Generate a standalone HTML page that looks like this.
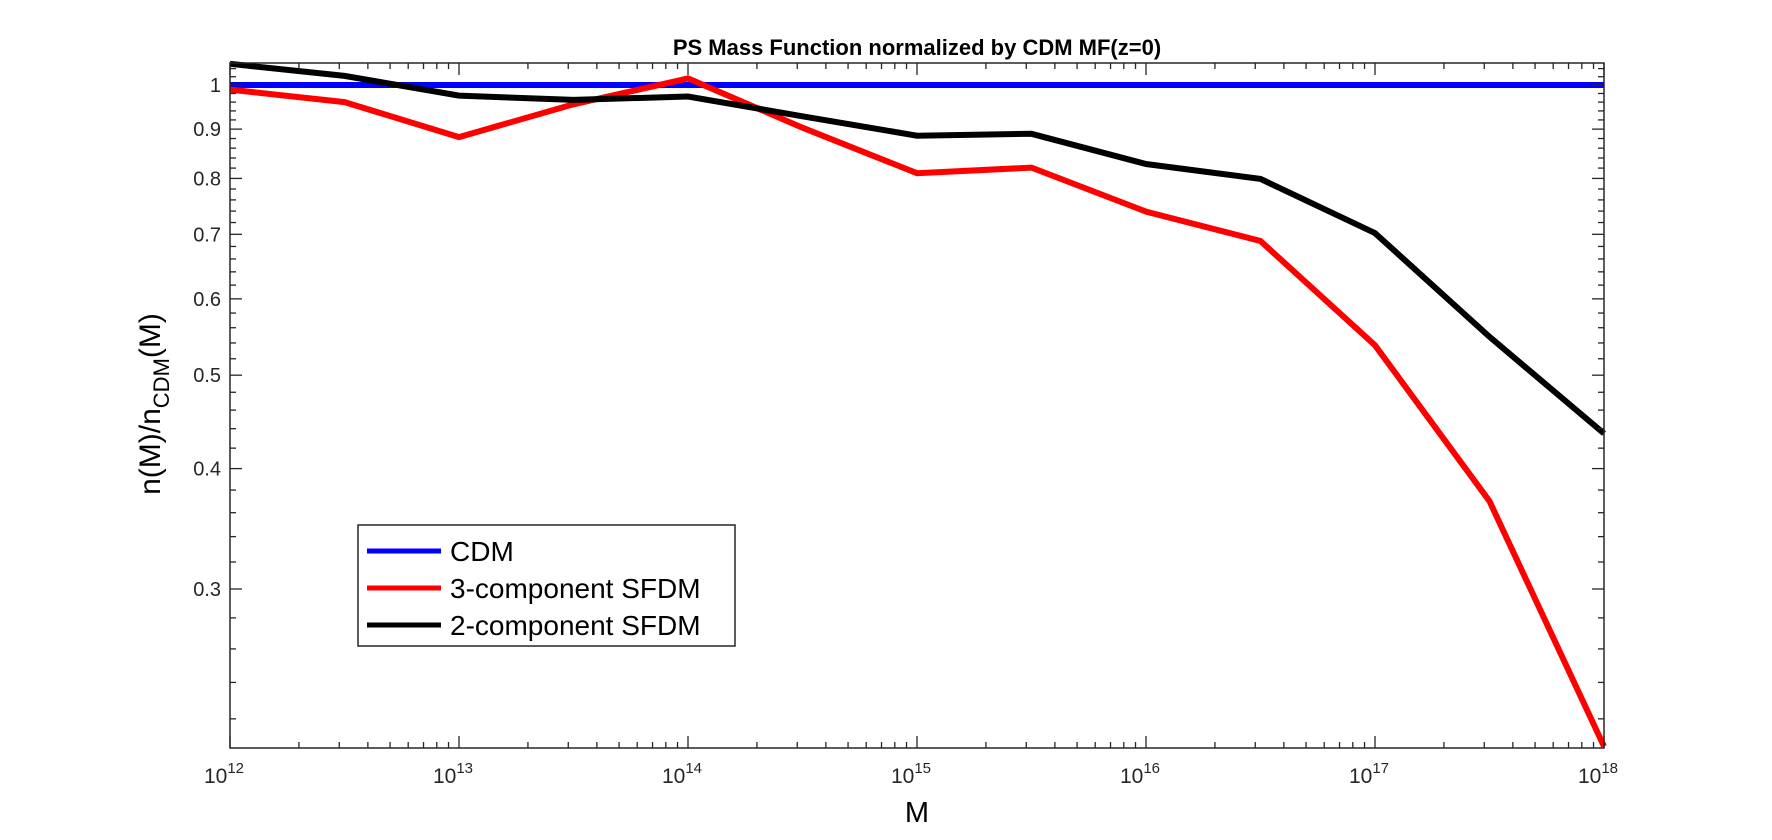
<!DOCTYPE html>
<html><head><meta charset="utf-8"><style>
html,body{margin:0;padding:0;background:#fff;}
svg{display:block;font-family:"Liberation Sans",Arial,sans-serif;}
</style></head><body>
<svg id="chart" width="1772" height="840" viewBox="0 0 1772 840" xmlns="http://www.w3.org/2000/svg">
<rect width="1772" height="840" fill="#fff"/>
<g id="series-layer"></g>
<g id="axes-layer"></g>
<text x="917" y="55" text-anchor="middle" font-size="22" font-weight="bold">PS Mass Function normalized by CDM MF(z=0)</text>
<text x="917" y="822" text-anchor="middle" font-size="29">M</text>
<text transform="translate(160,404) rotate(-90)" text-anchor="middle" font-size="30">n(M)/n<tspan font-size="22" dy="9">CDM</tspan><tspan dy="-9">(M)</tspan></text>
<g>
<rect x="358" y="525" width="377" height="121" fill="#fff" stroke="#262626" stroke-width="1.5"/>
<g><line x1="367" y1="551" x2="441" y2="551" stroke="#0000ff" stroke-width="5"/><text x="450" y="561" font-size="28">CDM</text></g>
<g><line x1="367" y1="588" x2="441" y2="588" stroke="#ff0000" stroke-width="5"/><text x="450" y="598" font-size="28">3-component SFDM</text></g>
<g><line x1="367" y1="625" x2="441" y2="625" stroke="#000" stroke-width="5"/><text x="450" y="635" font-size="28">2-component SFDM</text></g>
</g>
</svg>
<script>
const massExponents = [12,12.5,13,13.5,14,14.5,15,15.5,16,16.5,17,17.5,18];
const cdmValues = [1,1,1,1,1,1,1,1,1,1,1,1,1];
const sfdm3Values = [0.989,0.960,0.883,0.955,1.016,0.903,0.810,0.821,0.739,0.689,0.537,0.370,0.206];
const sfdm2Values = [1.052,1.022,0.975,0.965,0.973,0.928,0.886,0.890,0.828,0.799,0.702,0.548,0.435];
const yTickValues = [0.3,0.4,0.5,0.6,0.7,0.8,0.9,1];
const yTickLabels = ["0.3","0.4","0.5","0.6","0.7","0.8","0.9","1"];
const xTickExponents = [12,13,14,15,16,17,18];

const L=230,R=1604,T=63,B=748;
const X0=12,X1=18, YMIN=0.2052, YMAX=1.054;
function xs(e){return L+(e-X0)/(X1-X0)*(R-L);}
function ys(v){return T+(Math.log10(YMAX)-Math.log10(v))/(Math.log10(YMAX)-Math.log10(YMIN))*(B-T);}
const NS="http://www.w3.org/2000/svg";
function mk(tag,attrs,parent){const el=document.createElementNS(NS,tag);for(const k in attrs)el.setAttribute(k,attrs[k]);parent.appendChild(el);return el;}
const ax=document.getElementById('axes-layer');
const sl=document.getElementById('series-layer');

function series(vals,color,name,w){
  const pts=vals.map((v,i)=>xs(massExponents[i]).toFixed(1)+","+ys(v).toFixed(1)).join(" ");
  const p=mk('polyline',{points:pts,fill:'none',stroke:color,'stroke-width':w,'stroke-linejoin':'miter'},sl);
  
  
}
series(cdmValues,'#0000ff','cdm-line',6);
series(sfdm3Values,'#ff0000','sfdm-3-component-line',6);
series(sfdm2Values,'#000000','sfdm-2-component-line',6);

const box=mk('rect',{x:L,y:T,width:R-L,height:B-T,fill:'none',stroke:'#262626','stroke-width':1.5},ax);



for(let k=12;k<=18;k++){
  for(let m=1;m<=9;m++){
    const e=k+Math.log10(m); if(e>18.0001)break;
    const x=xs(e), len=(m===1)?12:6;
    mk('line',{x1:x,y1:B,x2:x,y2:B-len,stroke:'#262626','stroke-width':1.3},ax);
    mk('line',{x1:x,y1:T,x2:x,y2:T+len,stroke:'#262626','stroke-width':1.3},ax);
  }
}
xTickExponents.forEach(e=>{
  const t=mk('text',{x:xs(e)-6,y:783,'text-anchor':'middle','font-size':21,fill:'#262626'},ax);
  
  
  t.textContent='10';
  const s=mk('tspan',{'font-size':15,dy:-10},t); s.textContent=String(e);
});
for(let i=11;i<=52;i++){
  const v=i*0.02; if(Math.abs(v*10-Math.round(v*10))<1e-6)continue;
  const y=ys(v);
  mk('line',{x1:L,y1:y,x2:L+6,y2:y,stroke:'#262626','stroke-width':1.3},ax);
  mk('line',{x1:R,y1:y,x2:R-6,y2:y,stroke:'#262626','stroke-width':1.3},ax);
}
yTickValues.forEach((v,i)=>{
  const y=ys(v);
  mk('line',{x1:L,y1:y,x2:L+12,y2:y,stroke:'#262626','stroke-width':1.3},ax);
  mk('line',{x1:R,y1:y,x2:R-12,y2:y,stroke:'#262626','stroke-width':1.3},ax);
  const t=mk('text',{x:221,y:y+7,'text-anchor':'end','font-size':20,fill:'#262626'},ax);
  
  
  t.textContent=yTickLabels[i];
});
</script>
</body></html>
